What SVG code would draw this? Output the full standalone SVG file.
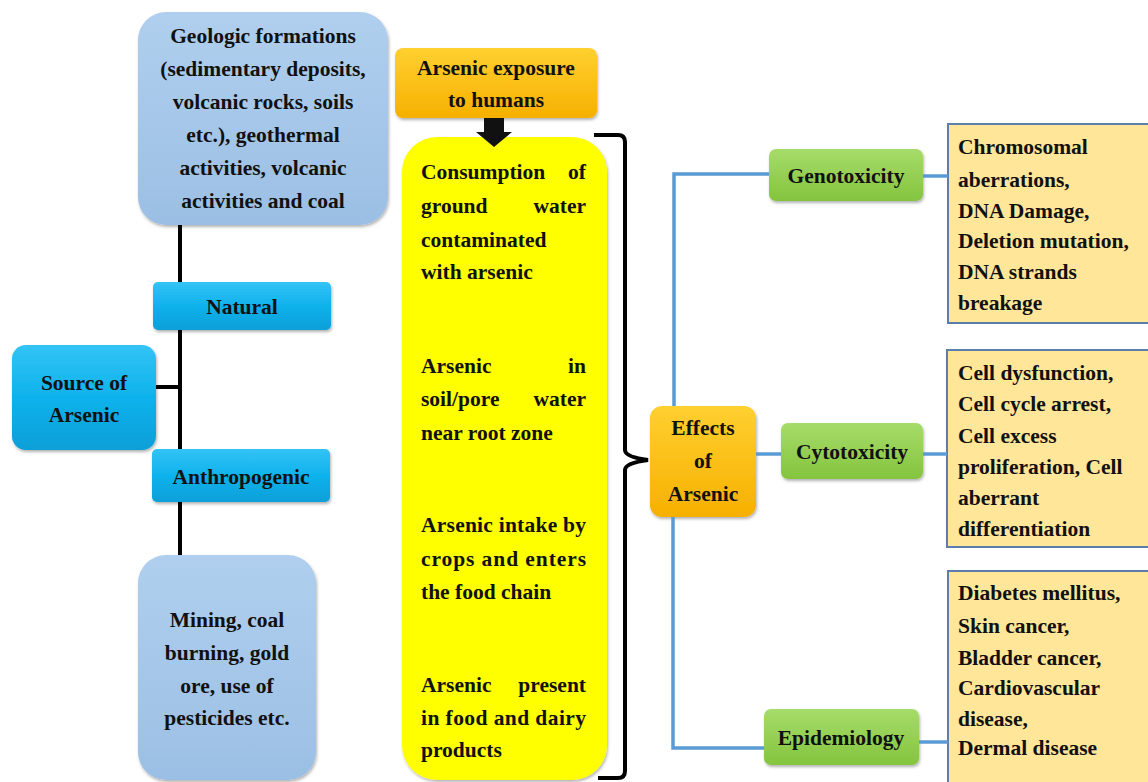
<svg xmlns="http://www.w3.org/2000/svg" width="1148" height="782" viewBox="0 0 1148 782">
<defs>
<linearGradient id="gBlueLight" x1="0" y1="0" x2="0" y2="1"><stop offset="0" stop-color="#b0cfee"/><stop offset="1" stop-color="#9bbfe4"/></linearGradient>
<linearGradient id="gCyan" x1="0" y1="0" x2="0" y2="1"><stop offset="0" stop-color="#33c3f5"/><stop offset="0.5" stop-color="#0fb2ec"/><stop offset="1" stop-color="#079fd8"/></linearGradient>
<linearGradient id="gOrange" x1="0" y1="0" x2="0" y2="1"><stop offset="0" stop-color="#ffd030"/><stop offset="1" stop-color="#f6b000"/></linearGradient>
<linearGradient id="gGreen" x1="0" y1="0" x2="0" y2="1"><stop offset="0" stop-color="#a6dc6a"/><stop offset="1" stop-color="#84c43e"/></linearGradient>
<filter id="sh" x="-10%" y="-10%" width="125%" height="125%"><feDropShadow dx="1" dy="2" stdDeviation="1.5" flood-color="#000" flood-opacity="0.3"/></filter>
</defs>
<style>
text{font-family:"Liberation Serif","Times New Roman",serif;font-weight:bold;font-size:21.5px;fill:#111;}
.c{text-anchor:middle;}
.e{text-anchor:end;}
.lb{fill:url(#gBlueLight);filter:url(#sh);}
.cy{fill:url(#gCyan);filter:url(#sh);}
.or{fill:url(#gOrange);filter:url(#sh);}
.gr{fill:url(#gGreen);filter:url(#sh);}
.tan{fill:#ffe699;stroke:#5b7fa8;stroke-width:2;}
.blk{stroke:#000;stroke-width:4;fill:none;}
.blu{stroke:#5b9bd5;stroke-width:3.5;fill:none;}
</style>
<rect width="1148" height="782" fill="#fff"/>
<g id="geologic">
<rect class="lb" x="138" y="12" width="250" height="213" rx="28"/>
<text class="c" x="263" y="43">Geologic formations</text>
<text class="c" x="263" y="76">(sedimentary deposits,</text>
<text class="c" x="263" y="109">volcanic rocks, soils</text>
<text class="c" x="263" y="142">etc.), geothermal</text>
<text class="c" x="263" y="175">activities, volcanic</text>
<text class="c" x="263" y="208">activities and coal</text>
</g>
<g id="natural">
<rect class="cy" x="153" y="282" width="178" height="48" rx="5"/>
<text class="c" x="242" y="314">Natural</text>
</g>
<g id="source">
<rect class="cy" x="12" y="345" width="144" height="105" rx="14"/>
<text class="c" x="84" y="390">Source of</text>
<text class="c" x="84" y="422">Arsenic</text>
</g>
<g id="anthropogenic">
<rect class="cy" x="152" y="449" width="178" height="53" rx="5"/>
<text class="c" x="241" y="484">Anthropogenic</text>
</g>
<g id="mining">
<rect class="lb" x="138" y="555" width="178" height="225" rx="28"/>
<text class="c" x="227" y="627">Mining, coal</text>
<text class="c" x="227" y="660">burning, gold</text>
<text class="c" x="227" y="693">ore, use of</text>
<text class="c" x="227" y="725">pesticides etc.</text>
</g>
<g id="exposure">
<rect class="or" x="395" y="48" width="202" height="70" rx="8"/>
<text class="c" x="496" y="75">Arsenic exposure</text>
<text class="c" x="496" y="107">to humans</text>
</g>
<g id="pathways">
<rect x="402" y="137" width="205" height="643" rx="35" fill="#ffff00" filter="url(#sh)"/>
<text x="421" y="179">Consumption</text><text class="e" x="586" y="179">of</text>
<text x="421" y="213">ground</text><text class="e" x="586" y="213">water</text>
<text x="421" y="247">contaminated</text>
<text x="421" y="279">with arsenic</text>
<text x="421" y="373">Arsenic</text><text class="e" x="586" y="373">in</text>
<text x="421" y="406">soil/pore</text><text class="e" x="586" y="406">water</text>
<text x="421" y="440">near root zone</text>
<text x="421" y="532" textLength="165" lengthAdjust="spacing">Arsenic intake by</text>
<text x="421" y="566" textLength="165" lengthAdjust="spacing">crops and enters</text>
<text x="421" y="599">the food chain</text>
<text x="421" y="692">Arsenic</text><text class="e" x="586" y="692">present</text>
<text x="421" y="725" textLength="165" lengthAdjust="spacing">in food and dairy</text>
<text x="421" y="757">products</text>
</g>
<g id="effects">
<rect class="or" x="650" y="406" width="106" height="111" rx="12"/>
<text class="c" x="703" y="435">Effects</text>
<text class="c" x="703" y="468">of</text>
<text class="c" x="703" y="501">Arsenic</text>
</g>
<g id="genotoxicity">
<rect class="gr" x="769" y="149" width="154" height="52" rx="7"/>
<text class="c" x="846" y="183">Genotoxicity</text>
</g>
<g id="cytotoxicity">
<rect class="gr" x="781" y="423" width="142" height="56" rx="7"/>
<text class="c" x="852" y="459">Cytotoxicity</text>
</g>
<g id="epidemiology">
<rect class="gr" x="764" y="709" width="155" height="56" rx="7"/>
<text class="c" x="841" y="745">Epidemiology</text>
</g>
<g id="geno-effects">
<rect class="tan" x="948" y="124" width="201" height="199"/>
<text x="958" y="154">Chromosomal</text>
<text x="958" y="187">aberrations,</text>
<text x="958" y="218">DNA Damage,</text>
<text x="958" y="248">Deletion mutation,</text>
<text x="958" y="279">DNA strands</text>
<text x="958" y="310">breakage</text>
</g>
<g id="cyto-effects">
<rect class="tan" x="947" y="350" width="202" height="197"/>
<text x="958" y="380">Cell dysfunction,</text>
<text x="958" y="411">Cell cycle arrest,</text>
<text x="958" y="443">Cell excess</text>
<text x="958" y="474">proliferation, Cell</text>
<text x="958" y="505">aberrant</text>
<text x="958" y="536">differentiation</text>
</g>
<g id="epi-effects">
<rect class="tan" x="948" y="571" width="201" height="215"/>
<text x="958" y="600">Diabetes mellitus,</text>
<text x="958" y="633">Skin cancer,</text>
<text x="958" y="665">Bladder cancer,</text>
<text x="958" y="695">Cardiovascular</text>
<text x="958" y="726">disease,</text>
<text x="958" y="755">Dermal disease</text>
</g>
<g id="connectors">
<path class="blk" d="M180,225 V282 M180,330 V449 M180,502 V555"/>
<path class="blk" d="M156,387 H180"/>
<path class="blk" d="M594,135 H618 Q625,135 625,142 V450 Q625,457 648,460 Q625,463 625,470 V771 Q625,778 618,778 H598" stroke-width="3.5"/>
<path d="M484,118 H504 V132 H512 L494,147 L476,132 H484 Z" fill="#111"/>
<path class="blu" d="M674,406 V174 H769"/>
<path class="blu" d="M673,517 V748 H764"/>
<path class="blu" d="M756,454 H781"/>
<path class="blu" d="M923,176 H948"/>
<path class="blu" d="M923,454 H947"/>
<path class="blu" d="M919,742 H948"/>
</g>
</svg>
